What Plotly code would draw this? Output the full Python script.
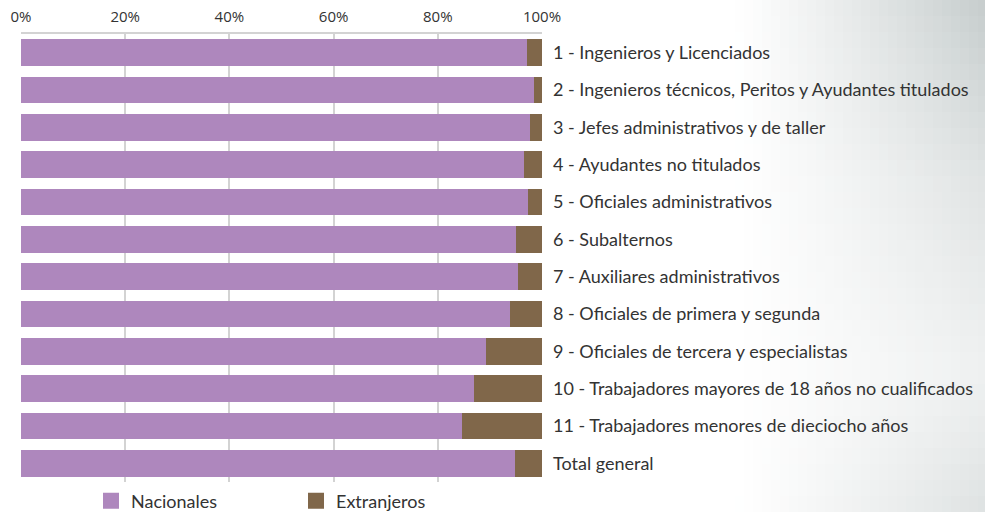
import plotly.graph_objects as go

# Occupational categories (top to bottom)
categorias = [
    "1 - Ingenieros y Licenciados",
    "2 - Ingenieros técnicos, Peritos y Ayudantes titulados",
    "3 - Jefes administrativos y de taller",
    "4 - Ayudantes no titulados",
    "5 - Oficiales administrativos",
    "6 - Subalternos",
    "7 - Auxiliares administrativos",
    "8 - Oficiales de primera y segunda",
    "9 - Oficiales de tercera y especialistas",
    "10 - Trabajadores mayores de 18 años no cualificados",
    "11 - Trabajadores menores de dieciocho años",
    "Total general",
]

# Share of workers (%) by nationality
nacionales = [97.1, 98.5, 97.7, 96.5, 97.3, 95.0, 95.4, 93.9, 89.3, 87.0, 84.6, 94.9]
extranjeros = [round(100 - v, 1) for v in nacionales]

ticks_x = [0, 20, 40, 60, 80, 100]
ticks_x_text = ["0%", "20%", "40%", "60%", "80%", "100%"]

COLOR_NAC = "rgb(174,135,189)"
COLOR_EXT = "rgb(128,103,74)"
GRID = "#d3d3d3"
TEXT = "#333333"
LABEL_FONT = "Lato"

W, H = 985, 512
M_L, M_R, M_T, M_B = 21, 443, 34, 30

fig = go.Figure()
fig.add_trace(go.Bar(y=categorias, x=nacionales, orientation="h", name="Nacionales",
                     marker=dict(color=COLOR_NAC, line=dict(width=0)), showlegend=False))
fig.add_trace(go.Bar(y=categorias, x=extranjeros, orientation="h", name="Extranjeros",
                     marker=dict(color=COLOR_EXT, line=dict(width=0)), showlegend=False))

# Legend entries with larger square swatches
for nombre, color in [("Nacionales", COLOR_NAC), ("Extranjeros", COLOR_EXT)]:
    fig.add_trace(go.Scatter(x=[None], y=[None], mode="markers", name=nombre,
                             marker=dict(symbol="square", size=16, color=color),
                             showlegend=True))

# Soft grey backdrop fading in on the right-hand side
plot_w = W - M_L - M_R
plot_h = H - M_T - M_B
shapes = []
x0_bg, step_x, step_y = 735, 9, 16
px = x0_bg
while px < W:
    t = (px + step_x / 2 - x0_bg) / (W - x0_bg)
    py = 0
    while py < H:
        yc = (py + step_y / 2) / H
        if yc < 0.35:
            k = 0.85 - 1.1 * yc
        elif yc < 0.72:
            k = 0.465 - 0.6 * (yc - 0.35)
        else:
            k = 0.24 + 0.9 * (yc - 0.72)
        a = max(0.0, min(1.0, (t ** 1.1) * k))
        shapes.append(dict(
            type="rect", xref="paper", yref="paper", layer="below",
            x0=(px - M_L) / plot_w, x1=(px + step_x - M_L) / plot_w,
            y0=(H - M_B - (py + step_y)) / plot_h, y1=(H - M_B - py) / plot_h,
            line=dict(width=0), fillcolor=f"rgba(188,196,196,{a:.3f})"))
        py += step_y
    px += step_x

fig.update_layout(
    width=W, height=H,
    margin=dict(l=M_L, r=M_R, t=M_T, b=M_B, pad=0, autoexpand=False),
    barmode="stack", bargap=0.28,
    paper_bgcolor="white", plot_bgcolor="rgba(0,0,0,0)",
    shapes=shapes,
    legend=dict(orientation="h", traceorder="normal",
                x=(91 - M_L) / plot_w, y=(H - M_B - 501) / plot_h,
                xanchor="left", yanchor="middle",
                entrywidth=160, entrywidthmode="pixels",
                font=dict(family=LABEL_FONT, size=18, color=TEXT),
                bgcolor="rgba(0,0,0,0)", itemclick=False),
    xaxis=dict(side="top", range=[0, 100], tickvals=ticks_x, ticktext=ticks_x_text,
               showgrid=True, gridcolor=GRID, gridwidth=2, zeroline=False,
               showline=True, linecolor=GRID, linewidth=2, ticks="",
               tickfont=dict(family="Open Sans", size=15, color=TEXT), ticklabelstandoff=4),
    yaxis=dict(side="right", categoryorder="array", categoryarray=categorias,
               autorange="reversed", showgrid=False, zeroline=False, showline=False, ticks="",
               tickfont=dict(family=LABEL_FONT, size=18, color=TEXT), ticklabelstandoff=10),
)

fig.write_html("out.html")
